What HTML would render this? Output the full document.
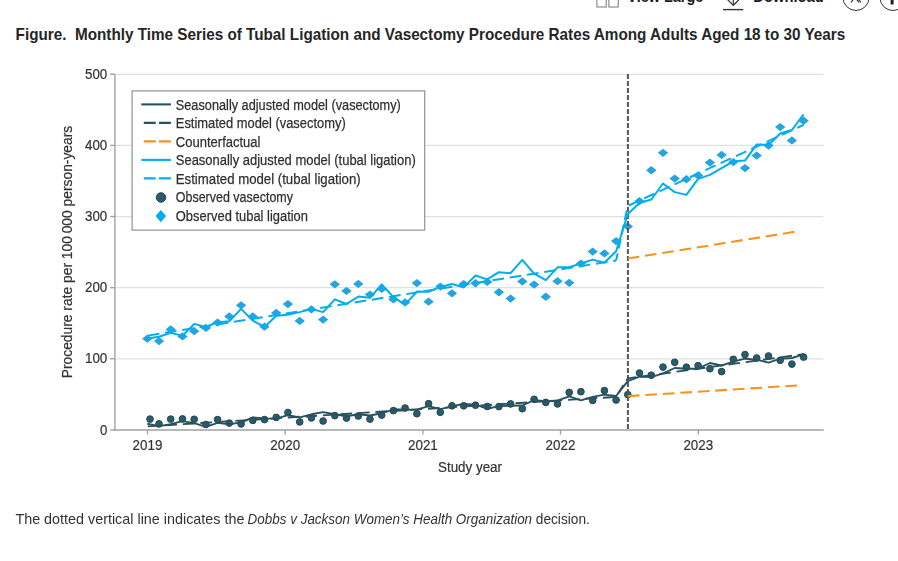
<!DOCTYPE html>
<html><head><meta charset="utf-8">
<style>
html,body{margin:0;padding:0;background:#fff;width:898px;height:561px;overflow:hidden;position:relative}
svg{display:block;position:absolute;left:0;top:0}
#chart{will-change:transform}
text{font-family:"Liberation Sans",sans-serif}
</style></head><body>
<svg width="898" height="561" viewBox="0 0 898 561">
<!-- top toolbar (clipped) -->
<g fill="none" stroke="#333" stroke-width="1.2">
<rect x="596.9" y="-6" width="9.3" height="13" stroke="#777" stroke-width="1"/>
<rect x="608.9" y="-6" width="9.3" height="13" stroke="#777" stroke-width="1"/>
<path d="M727 -1 L733.3 5.3 L739.7 -1"/>
<line x1="733.3" y1="-4" x2="733.3" y2="5"/>
<line x1="723" y1="9.6" x2="743.3" y2="9.6" stroke-width="1.4"/>
<circle cx="856" cy="-2.5" r="13" stroke-width="1"/>
<circle cx="893" cy="-2.5" r="13" stroke-width="1"/>
<path d="M851 2.5 L855 -3 M859 2.5 L855 -3 M861 2.5 L857.5 -2"/>
</g>
<rect x="890.6" y="-4" width="3" height="8.5" fill="#222"/>
<text x="627.3" y="1.9" font-size="16" font-weight="bold" fill="#1a1a1a" textLength="76" lengthAdjust="spacingAndGlyphs">View Large</text>
<text x="753.3" y="1.8" font-size="16" font-weight="bold" fill="#1a1a1a" textLength="70.5" lengthAdjust="spacingAndGlyphs">Download</text>

<text x="15.6" y="39.7" font-size="16.4" font-weight="bold" fill="#262626" textLength="829.6" lengthAdjust="spacingAndGlyphs" xml:space="preserve">Figure.  Monthly Time Series of Tubal Ligation and Vasectomy Procedure Rates Among Adults Aged 18 to 30 Years</text>

</svg>
<svg id="chart" width="898" height="561" viewBox="0 0 898 561">
<g stroke="#dfe0e2" stroke-width="1.25"><line x1="114" y1="358.77" x2="823.5" y2="358.77"/>
<line x1="114" y1="287.64" x2="823.5" y2="287.64"/>
<line x1="114" y1="216.51" x2="823.5" y2="216.51"/>
<line x1="114" y1="145.38" x2="823.5" y2="145.38"/>
<line x1="114" y1="74.25" x2="823.5" y2="74.25"/></g>
<g stroke="#a0a0a0" stroke-width="1.35">
<line x1="114.9" y1="74" x2="114.9" y2="430.7"/>
<line x1="114.2" y1="430" x2="823.7" y2="430"/>
<line x1="110.2" y1="429.90" x2="114.9" y2="429.90"/>
<line x1="110.2" y1="358.77" x2="114.9" y2="358.77"/>
<line x1="110.2" y1="287.64" x2="114.9" y2="287.64"/>
<line x1="110.2" y1="216.51" x2="114.9" y2="216.51"/>
<line x1="110.2" y1="145.38" x2="114.9" y2="145.38"/>
<line x1="110.2" y1="74.25" x2="114.9" y2="74.25"/>
<line x1="147.5" y1="430" x2="147.5" y2="434.5"/>
<line x1="285.2" y1="430" x2="285.2" y2="434.5"/>
<line x1="422.9" y1="430" x2="422.9" y2="434.5"/>
<line x1="560.5" y1="430" x2="560.5" y2="434.5"/>
<line x1="698.3" y1="430" x2="698.3" y2="434.5"/>
</g>
<g font-size="14.4" fill="#333" stroke="#333" stroke-width="0.2"><text x="107.3" y="434.5" text-anchor="end" textLength="7.3" lengthAdjust="spacingAndGlyphs">0</text>
<text x="107.3" y="363.4" text-anchor="end" textLength="22.3" lengthAdjust="spacingAndGlyphs">100</text>
<text x="107.3" y="292.2" text-anchor="end" textLength="22.3" lengthAdjust="spacingAndGlyphs">200</text>
<text x="107.3" y="221.1" text-anchor="end" textLength="22.3" lengthAdjust="spacingAndGlyphs">300</text>
<text x="107.3" y="150.0" text-anchor="end" textLength="22.3" lengthAdjust="spacingAndGlyphs">400</text>
<text x="107.3" y="78.8" text-anchor="end" textLength="22.3" lengthAdjust="spacingAndGlyphs">500</text></g>
<g font-size="15" fill="#333" stroke="#333" stroke-width="0.2"><text x="132.6" y="449.7" textLength="29.8" lengthAdjust="spacingAndGlyphs">2019</text>
<text x="270.3" y="449.7" textLength="29.8" lengthAdjust="spacingAndGlyphs">2020</text>
<text x="408.0" y="449.7" textLength="29.8" lengthAdjust="spacingAndGlyphs">2021</text>
<text x="545.6" y="449.7" textLength="29.8" lengthAdjust="spacingAndGlyphs">2022</text>
<text x="683.4" y="449.7" textLength="29.8" lengthAdjust="spacingAndGlyphs">2023</text></g>
<text x="438" y="472.2" font-size="15.2" fill="#333" stroke="#333" stroke-width="0.2" textLength="64" lengthAdjust="spacingAndGlyphs">Study year</text>
<text transform="translate(71.8,252) rotate(-90)" font-size="15.2" fill="#333" stroke="#333" stroke-width="0.2" text-anchor="middle" textLength="252.5" lengthAdjust="spacingAndGlyphs">Procedure rate per 100&#8201;000 person-years</text>

<!-- markers -->
<g fill="#25a5e0"><path d="M147.3 334.5L152.5 338.7L147.3 342.8L142.1 338.7Z"/>
<path d="M159.0 337.0L164.2 341.1L159.0 345.3L153.8 341.1Z"/>
<path d="M170.7 325.2L175.9 329.4L170.7 333.5L165.5 329.4Z"/>
<path d="M182.5 332.3L187.7 336.5L182.5 340.6L177.3 336.5Z"/>
<path d="M194.2 327.0L199.4 331.2L194.2 335.3L189.0 331.2Z"/>
<path d="M205.9 323.8L211.1 328.0L205.9 332.1L200.7 328.0Z"/>
<path d="M217.6 318.4L222.8 322.6L217.6 326.7L212.4 322.6Z"/>
<path d="M229.3 312.2L234.5 316.4L229.3 320.5L224.1 316.4Z"/>
<path d="M241.1 301.2L246.3 305.3L241.1 309.5L235.9 305.3Z"/>
<path d="M252.8 312.2L258.0 316.4L252.8 320.5L247.6 316.4Z"/>
<path d="M264.5 322.5L269.7 326.7L264.5 330.8L259.3 326.7Z"/>
<path d="M276.2 308.8L281.4 312.9L276.2 317.1L271.0 312.9Z"/>
<path d="M287.9 300.0L293.1 304.1L287.9 308.3L282.7 304.1Z"/>
<path d="M299.7 316.7L304.9 320.9L299.7 325.0L294.5 320.9Z"/>
<path d="M311.4 305.2L316.6 309.4L311.4 313.5L306.2 309.4Z"/>
<path d="M323.1 315.4L328.3 319.5L323.1 323.7L317.9 319.5Z"/>
<path d="M334.8 280.2L340.0 284.3L334.8 288.5L329.6 284.3Z"/>
<path d="M346.5 286.8L351.7 291.0L346.5 295.1L341.3 291.0Z"/>
<path d="M358.3 279.8L363.5 284.0L358.3 288.1L353.1 284.0Z"/>
<path d="M370.0 290.5L375.2 294.6L370.0 298.8L364.8 294.6Z"/>
<path d="M381.7 284.8L386.9 289.0L381.7 293.1L376.5 289.0Z"/>
<path d="M393.4 295.3L398.6 299.4L393.4 303.6L388.2 299.4Z"/>
<path d="M405.1 298.3L410.3 302.4L405.1 306.6L399.9 302.4Z"/>
<path d="M416.9 278.9L422.1 283.0L416.9 287.2L411.7 283.0Z"/>
<path d="M428.6 297.6L433.8 301.7L428.6 305.8L423.4 301.7Z"/>
<path d="M440.3 282.4L445.5 286.6L440.3 290.7L435.1 286.6Z"/>
<path d="M452.0 289.2L457.2 293.3L452.0 297.5L446.8 293.3Z"/>
<path d="M463.7 279.9L468.9 284.0L463.7 288.2L458.5 284.0Z"/>
<path d="M475.5 279.1L480.7 283.2L475.5 287.4L470.3 283.2Z"/>
<path d="M487.2 277.7L492.4 281.9L487.2 286.0L482.0 281.9Z"/>
<path d="M498.9 288.1L504.1 292.3L498.9 296.4L493.7 292.3Z"/>
<path d="M510.6 294.4L515.8 298.6L510.6 302.7L505.4 298.6Z"/>
<path d="M522.3 277.2L527.5 281.4L522.3 285.5L517.1 281.4Z"/>
<path d="M534.1 280.4L539.3 284.6L534.1 288.7L528.9 284.6Z"/>
<path d="M545.8 292.6L551.0 296.7L545.8 300.9L540.6 296.7Z"/>
<path d="M557.5 277.0L562.7 281.2L557.5 285.3L552.3 281.2Z"/>
<path d="M569.2 278.7L574.4 282.8L569.2 287.0L564.0 282.8Z"/>
<path d="M580.9 259.4L586.1 263.5L580.9 267.7L575.7 263.5Z"/>
<path d="M592.7 247.4L597.9 251.6L592.7 255.7L587.5 251.6Z"/>
<path d="M604.4 249.3L609.6 253.5L604.4 257.6L599.2 253.5Z"/>
<path d="M616.1 236.9L621.3 241.1L616.1 245.2L610.9 241.1Z"/>
<path d="M627.8 222.3L633.0 226.4L627.8 230.6L622.6 226.4Z"/>
<path d="M639.5 196.9L644.7 201.1L639.5 205.2L634.3 201.1Z"/>
<path d="M651.3 166.1L656.5 170.2L651.3 174.4L646.1 170.2Z"/>
<path d="M663.0 148.7L668.2 152.8L663.0 157.0L657.8 152.8Z"/>
<path d="M674.7 174.4L679.9 178.5L674.7 182.7L669.5 178.5Z"/>
<path d="M686.4 175.1L691.6 179.2L686.4 183.4L681.2 179.2Z"/>
<path d="M698.1 171.2L703.3 175.4L698.1 179.5L692.9 175.4Z"/>
<path d="M709.9 158.4L715.1 162.5L709.9 166.7L704.7 162.5Z"/>
<path d="M721.6 150.8L726.8 154.9L721.6 159.1L716.4 154.9Z"/>
<path d="M733.3 158.0L738.5 162.1L733.3 166.3L728.1 162.1Z"/>
<path d="M745.0 163.9L750.2 168.1L745.0 172.2L739.8 168.1Z"/>
<path d="M756.7 151.4L761.9 155.6L756.7 159.7L751.5 155.6Z"/>
<path d="M768.5 141.3L773.7 145.5L768.5 149.7L763.3 145.5Z"/>
<path d="M780.2 123.0L785.4 127.1L780.2 131.3L775.0 127.1Z"/>
<path d="M791.9 136.2L797.1 140.4L791.9 144.5L786.7 140.4Z"/>
<path d="M803.6 116.6L808.8 120.7L803.6 124.9L798.4 120.7Z"/></g>
<g fill="#2e5b69" stroke="#1d4755" stroke-width="1"><circle cx="150.0" cy="419.1" r="3.35"/>
<circle cx="159.0" cy="423.9" r="3.35"/>
<circle cx="170.7" cy="419.1" r="3.35"/>
<circle cx="182.5" cy="418.9" r="3.35"/>
<circle cx="194.2" cy="419.3" r="3.35"/>
<circle cx="205.9" cy="424.5" r="3.35"/>
<circle cx="217.6" cy="419.6" r="3.35"/>
<circle cx="229.3" cy="423.1" r="3.35"/>
<circle cx="241.1" cy="423.9" r="3.35"/>
<circle cx="252.8" cy="420.4" r="3.35"/>
<circle cx="264.5" cy="419.6" r="3.35"/>
<circle cx="276.2" cy="417.4" r="3.35"/>
<circle cx="287.9" cy="412.5" r="3.35"/>
<circle cx="299.7" cy="421.9" r="3.35"/>
<circle cx="311.4" cy="417.9" r="3.35"/>
<circle cx="323.1" cy="421.0" r="3.35"/>
<circle cx="334.8" cy="415.6" r="3.35"/>
<circle cx="346.5" cy="418.1" r="3.35"/>
<circle cx="358.3" cy="416.0" r="3.35"/>
<circle cx="370.0" cy="419.1" r="3.35"/>
<circle cx="381.7" cy="415.1" r="3.35"/>
<circle cx="393.4" cy="410.6" r="3.35"/>
<circle cx="405.1" cy="408.0" r="3.35"/>
<circle cx="416.9" cy="413.7" r="3.35"/>
<circle cx="428.6" cy="403.7" r="3.35"/>
<circle cx="440.3" cy="412.3" r="3.35"/>
<circle cx="452.0" cy="405.8" r="3.35"/>
<circle cx="463.7" cy="405.8" r="3.35"/>
<circle cx="475.5" cy="405.2" r="3.35"/>
<circle cx="487.2" cy="406.5" r="3.35"/>
<circle cx="498.9" cy="406.6" r="3.35"/>
<circle cx="510.6" cy="403.9" r="3.35"/>
<circle cx="522.3" cy="408.7" r="3.35"/>
<circle cx="534.1" cy="399.3" r="3.35"/>
<circle cx="545.8" cy="402.4" r="3.35"/>
<circle cx="557.5" cy="403.9" r="3.35"/>
<circle cx="569.2" cy="392.4" r="3.35"/>
<circle cx="580.9" cy="391.7" r="3.35"/>
<circle cx="592.7" cy="400.4" r="3.35"/>
<circle cx="604.4" cy="390.6" r="3.35"/>
<circle cx="616.1" cy="400.0" r="3.35"/>
<circle cx="627.8" cy="394.6" r="3.35"/>
<circle cx="639.5" cy="373.0" r="3.35"/>
<circle cx="651.3" cy="375.2" r="3.35"/>
<circle cx="663.0" cy="367.1" r="3.35"/>
<circle cx="674.7" cy="362.3" r="3.35"/>
<circle cx="686.4" cy="367.2" r="3.35"/>
<circle cx="698.1" cy="365.7" r="3.35"/>
<circle cx="709.9" cy="368.7" r="3.35"/>
<circle cx="721.6" cy="371.6" r="3.35"/>
<circle cx="733.3" cy="359.3" r="3.35"/>
<circle cx="745.0" cy="354.6" r="3.35"/>
<circle cx="756.7" cy="358.0" r="3.35"/>
<circle cx="768.5" cy="356.0" r="3.35"/>
<circle cx="780.2" cy="360.3" r="3.35"/>
<circle cx="791.9" cy="364.1" r="3.35"/>
<circle cx="803.6" cy="357.1" r="3.35"/></g>
<!-- dobbs line -->
<line x1="627.9" y1="74.1" x2="627.9" y2="429.2" stroke="#555" stroke-width="2" stroke-dasharray="4.9 2.1"/>

<!-- tubal -->
<polyline points="147.3,338.4 159.0,336.8 170.7,332.9 182.5,335.8 194.2,324.0 205.9,326.9 217.6,322.3 229.3,321.2 241.1,308.9 252.8,320.6 264.5,327.0 276.2,315.8 287.9,314.8 299.7,312.1 311.4,308.9 323.1,312.1 334.8,299.4 346.5,304.0 358.3,296.6 370.0,297.8 381.7,284.4 393.4,297.2 405.1,304.7 416.9,291.6 428.6,291.8 440.3,286.9 452.0,284.0 463.7,287.4 475.5,275.5 487.2,279.4 498.9,272.2 510.6,273.2 522.3,259.8 534.1,273.7 545.8,280.1 557.5,267.3 569.2,267.3 580.9,263.5 592.7,259.6 604.4,262.8 616.1,251.3 627.8,214.0 639.5,203.0 651.3,199.5 663.0,183.5 674.7,192.1 686.4,194.9 698.1,178.9 709.9,174.9 721.6,168.2 733.3,161.3 745.0,160.6 756.7,144.4 768.5,145.1 780.2,133.5 791.9,130.0 803.6,114.3" fill="none" stroke="#00aeef" stroke-width="2.0" stroke-linejoin="round"/>
<line x1="147.30" y1="335.70" x2="616.10" y2="260.46" stroke="#00aeef" stroke-width="2.0" stroke-dasharray="11.632 5.826" stroke-dashoffset="-0.497"/>
<line x1="616.10" y1="260.46" x2="627.80" y2="205.90" stroke="#00aeef" stroke-width="2.0" stroke-dasharray="9.732 4.875" stroke-dashoffset="396.840"/>
<line x1="627.80" y1="205.90" x2="803.62" y2="124.90" stroke="#00aeef" stroke-width="2.0" stroke-dasharray="11.250 5.635" stroke-dashoffset="-0.962"/>

<!-- vasectomy -->
<polyline points="147.3,423.7 159.0,426.1 170.7,424.2 182.5,421.1 194.2,423.1 205.9,426.9 217.6,422.9 229.3,424.2 241.1,422.4 252.8,417.5 264.5,418.4 276.2,418.6 287.9,415.2 299.7,417.4 311.4,414.3 323.1,412.1 334.8,414.3 346.5,416.3 358.3,414.2 370.0,415.5 381.7,413.3 393.4,409.3 405.1,409.7 416.9,409.6 428.6,406.1 440.3,409.2 452.0,406.3 463.7,403.9 475.5,404.7 487.2,408.7 498.9,406.1 510.6,405.8 522.3,405.5 534.1,400.2 545.8,401.3 557.5,400.7 569.2,396.4 580.9,400.4 592.7,396.9 604.4,394.6 616.1,396.0 627.8,381.2 639.5,376.6 651.3,377.1 663.0,373.3 674.7,368.0 686.4,368.8 698.1,368.7 709.9,363.0 721.6,365.5 733.3,361.7 745.0,358.7 756.7,359.6 768.5,362.7 780.2,358.7 791.9,358.0 803.6,354.4" fill="none" stroke="#29525f" stroke-width="1.9" stroke-linejoin="round"/>
<line x1="147.30" y1="426.40" x2="616.10" y2="396.87" stroke="#29525f" stroke-width="1.9" stroke-dasharray="11.689 5.855" stroke-dashoffset="-0.500"/>
<line x1="616.10" y1="396.87" x2="627.80" y2="378.40" stroke="#29525f" stroke-width="1.9" stroke-dasharray="10.136 5.077" stroke-dashoffset="406.899"/>
<line x1="627.80" y1="378.40" x2="803.62" y2="354.14" stroke="#29525f" stroke-width="1.9" stroke-dasharray="11.649 5.835" stroke-dashoffset="3.286"/>

<!-- counterfactual -->
<line x1="627.80" y1="258.58" x2="798.00" y2="231.26" stroke="#f7931e" stroke-width="2.1" stroke-dasharray="11.632 5.826" stroke-dashoffset="0.000"/>
<line x1="627.80" y1="396.13" x2="798.00" y2="385.41" stroke="#f7931e" stroke-width="2.1" stroke-dasharray="11.689 5.855" stroke-dashoffset="0.000"/>

<!-- legend -->
<rect x="132.1" y="90.9" width="292.6" height="139.2" fill="#fff" stroke="#929292" stroke-width="1.2"/>
<g stroke-width="2.1" fill="none">
<line x1="141.3" y1="104.4" x2="170.9" y2="104.4" stroke="#29525f"/>
<line x1="143.8" y1="122.9" x2="170.9" y2="122.9" stroke="#29525f" stroke-dasharray="11.9 3.3"/>
<line x1="143.8" y1="141.4" x2="170.9" y2="141.4" stroke="#f7931e" stroke-dasharray="11.9 3.3"/>
<line x1="141.3" y1="159.9" x2="170.9" y2="159.9" stroke="#00aeef"/>
<line x1="143.8" y1="178.4" x2="170.9" y2="178.4" stroke="#00aeef" stroke-dasharray="11.9 3.3"/>
</g>
<circle cx="161" cy="197.5" r="4.75" fill="#2e5b69" stroke="#1d4755" stroke-width="1"/>
<path d="M160.8 209.9L166.05 216.1L160.8 222.3L155.55 216.1Z" fill="#00aeef"/>
<g font-size="15.2" fill="#303030" stroke="#303030" stroke-width="0.25"><text x="175.8" y="109.6" textLength="225.0" lengthAdjust="spacingAndGlyphs">Seasonally adjusted model (vasectomy)</text>
<text x="175.8" y="128.1" textLength="169.9" lengthAdjust="spacingAndGlyphs">Estimated model (vasectomy)</text>
<text x="175.8" y="146.6" textLength="84.7" lengthAdjust="spacingAndGlyphs">Counterfactual</text>
<text x="175.8" y="165.1" textLength="239.9" lengthAdjust="spacingAndGlyphs">Seasonally adjusted model (tubal ligation)</text>
<text x="175.8" y="183.6" textLength="184.9" lengthAdjust="spacingAndGlyphs">Estimated model (tubal ligation)</text>
<text x="175.8" y="202.1" textLength="117.2" lengthAdjust="spacingAndGlyphs">Observed vasectomy</text>
<text x="175.8" y="220.6" textLength="132.2" lengthAdjust="spacingAndGlyphs">Observed tubal ligation</text></g>

</svg>
<svg width="898" height="561" viewBox="0 0 898 561">
<!-- caption -->
<g font-size="14.6" fill="#333">
<text x="15.4" y="524.1" textLength="229" lengthAdjust="spacingAndGlyphs">The dotted vertical line indicates the</text>
<text x="247.6" y="524.1" font-style="italic" textLength="284.5" lengthAdjust="spacingAndGlyphs">Dobbs v Jackson Women’s Health Organization</text>
<text x="535.8" y="524.1" textLength="54" lengthAdjust="spacingAndGlyphs">decision.</text>
</g>
</svg>
</body></html>
